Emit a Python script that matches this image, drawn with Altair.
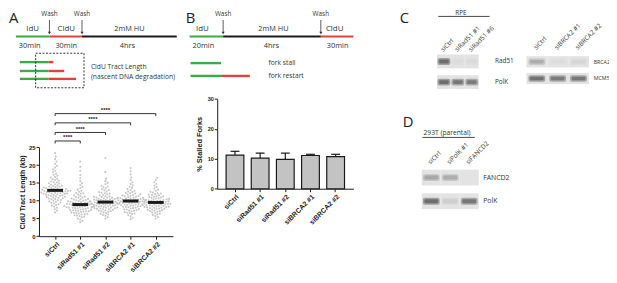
import math
import altair as alt
import pandas as pd

W, H = 609, 275
GREEN, RED, INK, GREY = "#3bab4a", "#e2403a", "#1a1a1a", "#333333"
AX_FONT, SK_FONT = "Liberation Sans", "Open Sans"

# ---------------- Panel A: CldU tract length (kb) ----------------
groups = ["siCtrl", "siRad51 #1", "siRad51 #2", "siBRCA2 #1", "siBRCA2 #2"]
tract_siCtrl = [6.7, 7.2, 7.6, 8.0, 8.3, 8.6, 8.8, 9.0, 9.2, 9.4, 9.5, 9.7, 9.8, 10.0, 10.1, 10.2, 10.4,
                10.5, 10.6, 10.7, 10.8, 10.9, 11.0, 11.1, 11.2, 11.3, 11.4, 11.5, 11.5, 11.6, 11.7, 11.8,
                11.9, 12.0, 12.0, 12.1, 12.2, 12.3, 12.3, 12.4, 12.5, 12.6, 12.6, 12.7, 12.8, 12.9, 12.9,
                13.0, 13.1, 13.2, 13.3, 13.3, 13.4, 13.5, 13.6, 13.7, 13.8, 13.9, 14.0, 14.1, 14.2, 14.3,
                14.5, 14.6, 14.8, 14.9, 15.1, 15.2, 15.4, 15.6, 15.8, 16.0, 16.2, 16.5, 16.7, 17.0, 17.3,
                17.6, 18.0, 18.4, 18.8, 19.3, 19.8, 20.4, 21.0, 21.7, 22.4, 23.4, 12.45, 13.05, 11.95, 12.75]
tract_siRad51_1 = [3.9, 4.3, 4.7, 5.0, 5.3, 5.5, 5.7, 5.9, 6.1, 6.2, 6.4, 6.5, 6.7, 6.8, 6.9, 7.0, 7.1, 7.2,
                   7.3, 7.4, 7.5, 7.6, 7.7, 7.8, 7.9, 8.0, 8.0, 8.1, 8.2, 8.3, 8.4, 8.5, 8.5, 8.6, 8.7, 8.8,
                   8.9, 9.0, 9.0, 9.1, 9.2, 9.3, 9.4, 9.5, 9.6, 9.7, 9.8, 9.9, 10.0, 10.1, 10.2, 10.3, 10.5,
                   10.6, 10.8, 10.9, 11.1, 11.3, 11.5, 11.7, 12.0, 12.2, 12.5, 12.8, 13.1, 13.5, 13.9, 14.4,
                   14.9, 15.5, 16.3, 17.2, 18.4, 19.5, 21.0, 6.6, 7.35, 7.95, 8.45, 8.95, 9.45, 10.4, 11.0,
                   7.05, 8.15, 9.15, 9.85, 6.3, 5.8, 12.1]
tract_siRad51_2 = [5.0, 5.4, 5.8, 6.1, 6.3, 6.5, 6.7, 6.9, 7.0, 7.2, 7.3, 7.4, 7.6, 7.7, 7.8, 7.9, 8.0, 8.1,
                   8.2, 8.3, 8.4, 8.5, 8.6, 8.7, 8.8, 8.9, 9.0, 9.0, 9.1, 9.2, 9.3, 9.4, 9.5, 9.5, 9.6, 9.7,
                   9.8, 9.9, 10.0, 10.1, 10.2, 10.3, 10.4, 10.5, 10.6, 10.7, 10.8, 10.9, 11.0, 11.2, 11.3,
                   11.5, 11.6, 11.8, 12.0, 12.2, 12.4, 12.6, 12.9, 13.2, 13.5, 13.8, 14.2, 14.6, 15.0, 15.5,
                   16.2, 18.1, 22.0, 7.05, 7.55, 8.05, 8.55, 9.05, 9.55, 10.05, 10.55, 11.1, 8.25, 9.25,
                   9.75, 10.25, 6.0, 12.1, 13.0, 14.0, 8.75, 7.85, 10.85]
tract_siBRCA2_1 = [4.8, 5.2, 5.6, 5.9, 6.2, 6.4, 6.6, 6.8, 7.0, 7.2, 7.3, 7.5, 7.6, 7.8, 7.9, 8.0, 8.2, 8.3,
                   8.4, 8.6, 8.7, 8.8, 8.9, 9.0, 9.1, 9.2, 9.3, 9.4, 9.5, 9.6, 9.7, 9.8, 9.9, 10.0, 10.1,
                   10.2, 10.3, 10.4, 10.5, 10.6, 10.7, 10.8, 10.9, 11.0, 11.1, 11.2, 11.4, 11.5, 11.7, 11.8,
                   12.0, 12.2, 12.4, 12.6, 12.8, 13.0, 13.3, 13.6, 13.9, 14.3, 14.7, 15.2, 15.8, 16.5, 17.4,
                   18.3, 19.2, 7.15, 7.65, 8.15, 8.65, 9.15, 9.65, 10.15, 10.65, 11.3, 9.45, 9.85, 10.35,
                   8.45, 12.1, 6.5, 11.6, 10.85, 9.25, 8.9, 10.0]
tract_siBRCA2_2 = [5.0, 5.4, 5.7, 6.0, 6.3, 6.5, 6.7, 6.9, 7.1, 7.2, 7.4, 7.5, 7.7, 7.8, 7.9, 8.0, 8.1, 8.2,
                   8.3, 8.4, 8.5, 8.6, 8.7, 8.8, 8.9, 9.0, 9.1, 9.2, 9.3, 9.4, 9.5, 9.6, 9.7, 9.8, 9.9, 10.0,
                   10.1, 10.2, 10.3, 10.4, 10.5, 10.6, 10.8, 10.9, 11.0, 11.2, 11.3, 11.5, 11.7, 11.9, 12.1,
                   12.3, 12.5, 12.8, 13.1, 13.4, 13.8, 14.2, 14.7, 15.2, 15.8, 16.4, 7.05, 7.65, 8.05, 8.45,
                   8.85, 9.05, 9.35, 9.65, 9.95, 10.25, 10.65, 11.1, 8.25, 8.75, 9.55, 7.35, 6.1, 10.45,
                   11.6, 12.0]
tract_means = [12.9, 8.9, 9.6, 9.9, 9.5]
sig_to = [1, 2, 3, 4]
sig_y = [26.8, 29.2, 31.9, 34.5]
sig_text = ["****", "****", "****", "****"]

# ---------------- Panel B: % stalled forks ----------------
stalled_mean = [11.2, 10.2, 9.8, 11.1, 10.7]
stalled_sem = [1.3, 1.7, 2.1, 0.4, 0.8]

# ---------------- Panels C / D: western blots ----------------
blotC1_lanes = ["siCtrl", "siRad51 #1", "siRad51 #6"]
blotC1_rows = ["Rad51", "PolK"]
blotC1_signal = [[1.0, 0.04, 0.06], [1.0, 0.9, 0.85]]
blotC2_lanes = ["siCtrl", "siBRCA2 #1", "siBRCA2 #2"]
blotC2_rows = ["BRCA2", "MCM5"]
blotC2_signal = [[0.4, 0.03, 0.08], [0.95, 0.85, 0.9]]
blotD_lanes = ["siCtrl", "siPolK #1", "siFANCD2"]
blotD_rows = ["FANCD2", "PolK"]
blotD_signal = [[0.45, 0.4, 0.0], [1.0, 0.15, 0.9]]

# ---------------- schematic drawing (diagram units) ----------------
seg_x1 = [8, 42, 75, 12, 41, 12, 41, 12, 41, 184, 218, 317, 185, 185, 216, 436, 420]
seg_x2 = [42, 75, 171, 41, 46, 41, 57, 41, 69, 218, 317, 350, 216, 216, 245, 488, 473]
seg_y = [27, 27, 27, 53, 53, 62, 62, 70, 70, 27, 27, 27, 54, 67, 67, 6.7, 129.3]
seg_c = [GREEN, RED, INK, GREEN, RED, GREEN, RED, GREEN, RED, GREEN, INK, RED, GREEN, GREEN, RED, INK, INK]
seg_w = [2, 2, 2, 2.4, 2.4, 2.4, 2.4, 2.4, 2.4, 2, 2, 2, 2.4, 2.4, 2.4, 0.8, 0.8]
wash_x = [42, 75, 218, 317]
ctext = ["Wash", "Wash", "Wash", "Wash", "IdU", "CldU", "2mM HU", "30min", "30min", "4hrs",
         "IdU", "2mM HU", "CldU", "20min", "4hrs", "30min", "RPE"]
ctext_x = [42, 75, 218, 317, 25, 59, 123, 22, 59, 121, 197, 269, 331, 198, 267, 334, 459]
ctext_y = [4.5, 4.5, 4.5, 4.5, 19.5, 19.5, 19.5, 36.5, 36.5, 36.5, 19.5, 19.5, 19.5, 36.5, 36.5, 36.5, 3.5]
ctext_s = [6.5, 6.5, 6.5, 6.5, 8, 8, 7.5, 7.5, 7.5, 7.5, 8, 7.5, 8, 7.5, 7.5, 7.5, 6.5]
ltext = ["CldU Tract Length", "(nascent DNA degradation)", "fork stall", "fork  restart", "293T (parental)"]
ltext_x = [84, 84, 264, 264, 421]
ltext_y = [58, 68, 54, 67, 125]
letters = ["A", "B", "C", "D"]
letters_x = [1, 180, 397, 400]
letters_y = [1, 1, 1, 107]

# ======================= build =======================
A_x = alt.Scale(domain=[-0.64, 4.68], range=[31.4, 167.1], nice=False, zero=False)
A_y = alt.Scale(domain=[0, 25], range=[229.4, 139.4], nice=False, zero=False)
lab_expr = "[" + ",".join("'%s'" % g for g in groups) + "][datum.value]"
A_xaxis = alt.Axis(orient="bottom", offset=229.4 - H, values=[0, 1, 2, 3, 4], labelExpr=lab_expr,
                   labelAngle=-45, labelFont=AX_FONT, labelFontWeight="bold", labelFontSize=7,
                   labelColor=INK, tickSize=3, tickColor=INK, domainColor=INK, grid=False, title=None,
                   labelPadding=1, labelOverlap=False)
A_yaxis = alt.Axis(orient="left", offset=-31.4, values=[0, 5, 10, 15, 20, 25], labelFont=AX_FONT,
                   labelFontWeight="bold", labelFontSize=6, labelColor=INK, tickSize=3, tickColor=INK,
                   domainColor=INK, grid=False, title="CldU Tract Length (kb)", titleFont=AX_FONT,
                   titleFontSize=7, titleFontWeight="bold", titleColor=INK, titlePadding=3, labelPadding=1)

def swarm(vals, d=2.6, ypx=3.6, xpx=25.5):
    placed, out = [], []
    for v in sorted(vals):
        y = v * ypx
        cands = [0.0]
        for px, py in placed:
            dy = y - py
            if abs(dy) < d:
                dx = math.sqrt(d * d - dy * dy)
                cands += [px + dx, px - dx]
        cands.sort(key=abs)
        for c in cands:
            if all((c - px) ** 2 + (y - py) ** 2 >= d * d - 1e-6 for px, py in placed):
                break
        placed.append((c, y))
        out.append((v, c / xpx))
    return out

rows = []
for i, vals in enumerate([tract_siCtrl, tract_siRad51_1, tract_siRad51_2, tract_siBRCA2_1, tract_siBRCA2_2]):
    for v, off in swarm(vals):
        rows.append({"idx": i, "value": v, "pos": i + off})
dots = pd.DataFrame(rows)
means = pd.DataFrame({"idx": list(range(5)), "mean": tract_means})
sig = pd.DataFrame({"x1": [0] * 4, "x2": sig_to, "y": sig_y, "t": sig_text})
sig["mid"] = (sig["x1"] + sig["x2"]) / 2
drops = pd.DataFrame({"x": [0] * 4 + sig_to, "y": sig_y * 2})

pA_dots = alt.Chart(dots).mark_circle(size=4.5, color="#c6c6c6", opacity=1).encode(
    x=alt.X("pos:Q", scale=A_x, axis=A_xaxis), y=alt.Y("value:Q", scale=A_y, axis=A_yaxis))
pA_mean = alt.Chart(means).mark_tick(orient="horizontal", size=16, thickness=3, color=INK, opacity=1).encode(
    x=alt.X("idx:Q", scale=A_x, axis=A_xaxis), y=alt.Y("mean:Q", scale=A_y, axis=A_yaxis))
pA_br = alt.Chart(sig).mark_rule(color=INK, strokeWidth=0.9).encode(
    x=alt.X("x1:Q", scale=A_x, axis=A_xaxis), x2="x2:Q", y=alt.Y("y:Q", scale=A_y, axis=A_yaxis))
pA_drop = alt.Chart(drops).transform_calculate(y2="datum.y - 0.7").mark_rule(color=INK, strokeWidth=0.9).encode(
    x=alt.X("x:Q", scale=A_x, axis=A_xaxis), y=alt.Y("y:Q", scale=A_y, axis=A_yaxis), y2="y2:Q")
pA_star = alt.Chart(sig).mark_text(font=AX_FONT, fontSize=6, fontWeight="bold", color=INK,
                                   baseline="bottom", dy=-0.5).encode(
    x=alt.X("mid:Q", scale=A_x, axis=A_xaxis), y=alt.Y("y:Q", scale=A_y, axis=A_yaxis), text="t:N")
panelA = alt.layer(pA_dots, pA_mean, pA_br, pA_drop, pA_star)

B_x = alt.Scale(domain=groups, range=[212, 350], paddingInner=0.294, paddingOuter=0.353)
B_y = alt.Scale(domain=[0, 30], range=[181.3, 90.3], nice=False, zero=False)
B_xaxis = alt.Axis(orient="bottom", offset=181.3 - H, labelAngle=-45, labelFont=AX_FONT,
                   labelFontWeight="bold", labelFontSize=7, labelColor=INK, tickSize=3, tickColor=INK,
                   domainColor=INK, grid=False, title=None, labelPadding=1, labelOverlap=False)
B_yaxis = alt.Axis(orient="left", offset=-212, values=[0, 10, 20, 30], labelFont=AX_FONT,
                   labelFontWeight="bold", labelFontSize=5.5, labelColor=INK, tickSize=3, tickColor=INK,
                   domainColor=INK, grid=False, title="% Stalled Forks", titleFont=AX_FONT,
                   titleFontSize=7.5, titleFontWeight="bold", titleColor=INK, titlePadding=4, labelPadding=1)
bars = pd.DataFrame({"g": groups, "m": stalled_mean, "s": stalled_sem})
bars["top"] = bars["m"] + bars["s"]
pB_err = alt.Chart(bars).mark_rule(color=INK, strokeWidth=1.2).encode(
    x=alt.X("g:N", scale=B_x, axis=B_xaxis), y=alt.Y("m:Q", scale=B_y, axis=B_yaxis), y2="top:Q")
pB_cap = alt.Chart(bars).mark_tick(orient="horizontal", size=9, thickness=1.2, color=INK, opacity=1).encode(
    x=alt.X("g:N", scale=B_x, axis=B_xaxis), y=alt.Y("top:Q", scale=B_y, axis=B_yaxis))
pB_bar = alt.Chart(bars).mark_bar(fill="#c3c3c3", stroke=INK, strokeWidth=1.2, opacity=1).encode(
    x=alt.X("g:N", scale=B_x, axis=B_xaxis), y=alt.Y("m:Q", scale=B_y, axis=B_yaxis))
panelB = alt.layer(pB_err, pB_cap, pB_bar)


def blot(lanes, rows_, signal, xr, yr, top_y, label_x, band_w, band_h, row_fs):
    recs = []
    for r, row in enumerate(rows_):
        for l, lane in enumerate(lanes):
            recs.append({"lane": lane, "row": row, "sig": signal[r][l]})
    df = pd.DataFrame(recs)
    xs = alt.Scale(domain=lanes, range=xr, paddingInner=0, paddingOuter=0)
    ys = alt.Scale(domain=rows_, range=yr, paddingInner=0.33, paddingOuter=0)
    xa = alt.Axis(orient="top", offset=-top_y, labelAngle=-45, domain=False, ticks=False,
                  labelFont=SK_FONT, labelFontSize=6.5, labelColor=GREY, labelPadding=1, title=None,
                  labelOverlap=False)
    ya = alt.Axis(orient="right", offset=label_x - W, domain=False, ticks=False, labelFont=SK_FONT,
                  labelFontSize=row_fs, labelColor=GREY, labelPadding=0, title=None, labelAlign="left")
    box = alt.Chart(df).mark_rect(color="#e3e3e3").encode(
        x=alt.X("lane:N", scale=xs, axis=xa), y=alt.Y("row:N", scale=ys, axis=ya))
    halo = alt.Chart(df).mark_rect(width=band_w + 3, height=band_h + 3, color="#222", cornerRadius=2).encode(
        x=alt.X("lane:N", scale=xs, axis=xa), y=alt.Y("row:N", scale=ys, axis=ya),
        opacity=alt.Opacity("sig:Q", scale=alt.Scale(domain=[0, 1], range=[0, 0.35]), legend=None))
    band = alt.Chart(df).mark_rect(width=band_w, height=band_h, color="#111", cornerRadius=1.5).encode(
        x=alt.X("lane:N", scale=xs, axis=xa), y=alt.Y("row:N", scale=ys, axis=ya),
        opacity=alt.Opacity("sig:Q", scale=alt.Scale(domain=[0, 1], range=[0, 0.95]), legend=None))
    return alt.layer(box, halo, band)


blotC1 = blot(blotC1_lanes, blotC1_rows, blotC1_signal, [434.7, 477], [45.3, 80.3], 44, 493, 10, 4, 6.5)
blotC2 = blot(blotC2_lanes, blotC2_rows, blotC2_signal, [525.3, 588.7], [47, 75.3], 42, 593, 14, 3.5, 5.3)
blotD = blot(blotD_lanes, blotD_rows, blotD_signal, [419.3, 477], [162, 202], 158, 481, 14, 4, 7)

DX = alt.Scale(domain=[0, W], range=[0, W], nice=False, zero=False)
DY = alt.Scale(domain=[0, H], range=[0, H], nice=False, zero=False)
segs = pd.DataFrame({"x1": seg_x1, "x2": seg_x2, "y": seg_y, "c": seg_c, "w": seg_w})
d_seg = alt.Chart(segs).mark_rule().encode(
    x=alt.X("x1:Q", scale=DX, axis=None), x2="x2:Q", y=alt.Y("y:Q", scale=DY, axis=None),
    color=alt.Color("c:N", scale=None), strokeWidth=alt.StrokeWidth("w:Q", scale=None))
arrows = pd.DataFrame({"x": wash_x, "y1": [10.3] * 4, "y2": [23.5] * 4})
d_arr = alt.Chart(arrows).mark_rule(color=GREY, strokeWidth=0.8).encode(
    x=alt.X("x:Q", scale=DX, axis=None), y=alt.Y("y1:Q", scale=DY, axis=None), y2="y2:Q")
d_tip = alt.Chart(arrows).mark_point(shape="triangle-down", filled=True, size=10, color=GREY, opacity=1).encode(
    x=alt.X("x:Q", scale=DX, axis=None), y=alt.Y("y2:Q", scale=DY, axis=None))
box = pd.DataFrame({"x1": [28], "x2": [77], "y1": [44], "y2": [79]})
d_box = alt.Chart(box).mark_rect(fillOpacity=0, stroke=INK, strokeWidth=0.9, strokeDash=[2, 1.5]).encode(
    x=alt.X("x1:Q", scale=DX, axis=None), x2="x2:Q", y=alt.Y("y1:Q", scale=DY, axis=None), y2="y2:Q")
ct = pd.DataFrame({"t": ctext, "x": ctext_x, "y": ctext_y, "s": ctext_s})
d_ct = alt.Chart(ct).mark_text(font=SK_FONT, color=GREY, align="center", baseline="middle").encode(
    x=alt.X("x:Q", scale=DX, axis=None), y=alt.Y("y:Q", scale=DY, axis=None), text="t:N",
    size=alt.Size("s:Q", scale=None))
lt = pd.DataFrame({"t": ltext, "x": ltext_x, "y": ltext_y})
d_lt = alt.Chart(lt).mark_text(font=SK_FONT, color=GREY, align="left", baseline="middle", fontSize=6.8).encode(
    x=alt.X("x:Q", scale=DX, axis=None), y=alt.Y("y:Q", scale=DY, axis=None), text="t:N")
lets = pd.DataFrame({"t": letters, "x": letters_x, "y": letters_y})
d_let = alt.Chart(lets).mark_text(font=SK_FONT, color="#222", align="left", baseline="top", fontSize=15).encode(
    x=alt.X("x:Q", scale=DX, axis=None), y=alt.Y("y:Q", scale=DY, axis=None), text="t:N")
diagram = alt.layer(d_seg, d_arr, d_tip, d_box, d_ct, d_lt, d_let)

chart = alt.layer(panelA, panelB, blotC1, blotC2, blotD, diagram).resolve_scale(
    x="independent", y="independent").properties(
    width=W, height=H, autosize="none", padding=0).configure_view(stroke=None)

chart.save("out.html", embed_options={"renderer": "svg", "actions": False})
